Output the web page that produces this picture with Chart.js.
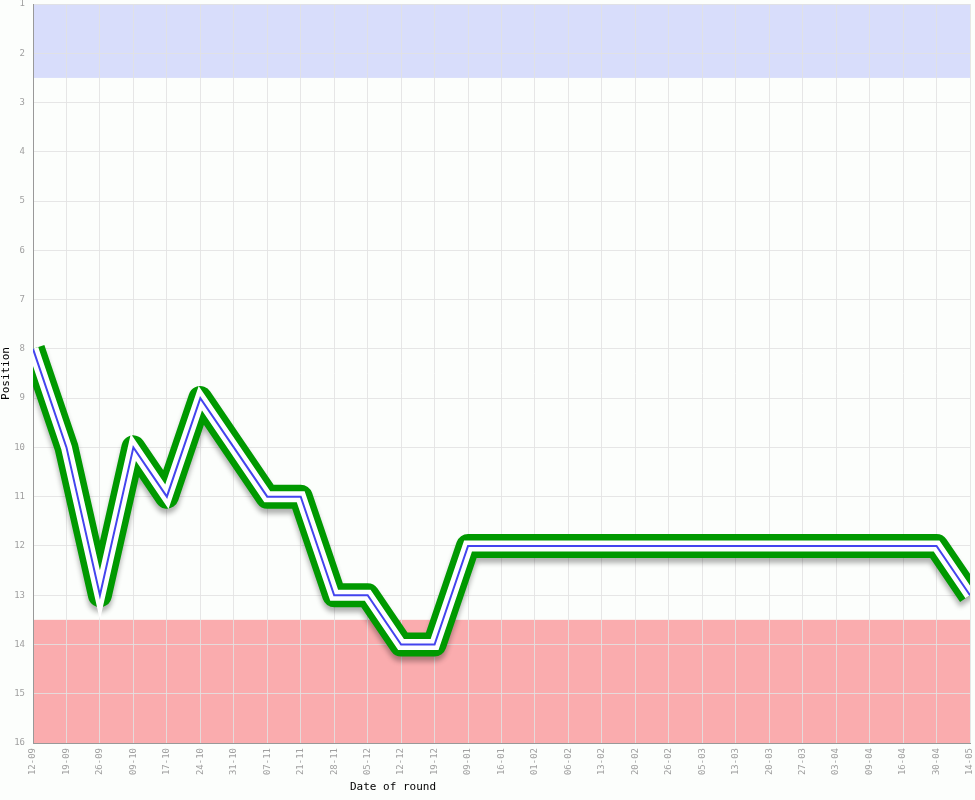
<!DOCTYPE html>
<html>
<head>
<meta charset="utf-8">
<script src="https://cdn.jsdelivr.net/npm/chart.js@4"></script>
<style>
  html, body { margin: 0; padding: 0; background: #fcfefc; }
  #wrap { width: 975px; height: 800px; }
</style>
</head>
<body>
<div id="wrap"><canvas id="c" width="975" height="800"></canvas></div>
<script>
const roundDates = ["12-09","19-09","26-09","09-10","17-10","24-10","31-10","07-11","21-11","28-11","05-12","12-12","19-12","09-01","16-01","01-02","06-02","13-02","20-02","26-02","05-03","13-03","20-03","27-03","03-04","09-04","16-04","30-04","14-05"];
const positions = [8,10,13,10,11,9,10,11,11,13,13,14,14,12,12,12,12,12,12,12,12,12,12,12,12,12,12,12,13];
const topZone = [1, 2.5];
const bottomZone = [13.5, 16];
const xTitle = "Date of round";
const yTitle = "Position";

const bgPlugin = {
  id: 'bg',
  beforeDraw(chart) {
    const ctx = chart.ctx, a = chart.chartArea, y = chart.scales.y;
    ctx.save();
    ctx.fillStyle = '#fcfefc';
    ctx.fillRect(0, 0, chart.width, chart.height);
    ctx.fillStyle = 'rgb(216,221,251)';
    let y1 = y.getPixelForValue(topZone[0]), y2 = y.getPixelForValue(topZone[1]);
    ctx.fillRect(a.left, Math.min(y1, y2), a.right - a.left, Math.abs(y2 - y1));
    ctx.fillStyle = 'rgb(250,172,174)';
    y1 = y.getPixelForValue(bottomZone[0]); y2 = y.getPixelForValue(bottomZone[1]);
    ctx.fillRect(a.left, Math.min(y1, y2), a.right - a.left, Math.abs(y2 - y1));
    ctx.restore();
  },
  afterDraw(chart) {
    const ctx = chart.ctx;
    ctx.save();
    ctx.fillStyle = '#000';
    ctx.font = '11px "DejaVu Sans Mono"';
    ctx.textAlign = 'center';
    ctx.textBaseline = 'middle';
    ctx.fillText(xTitle, 393, 787);
    ctx.restore();
  }
};

const shadowPlugin = {
  id: 'shadow',
  beforeDatasetDraw(chart, args) {
    if (args.index === 0) {
      const ctx = chart.ctx;
      ctx.save();
      ctx.shadowColor = 'rgba(0,0,0,0.3)';
      ctx.shadowBlur = 5;
      ctx.shadowOffsetX = 0;
      ctx.shadowOffsetY = 5;
    }
  },
  afterDatasetDraw(chart, args) {
    if (args.index === 0) chart.ctx.restore();
  }
};

function noPad(s) { s.paddingLeft = 0; s.paddingRight = 0; s.paddingTop = 0; s.paddingBottom = 0; }

new Chart(document.getElementById('c'), {
  type: 'line',
  data: {
    labels: roundDates,
    datasets: [
      { data: positions, borderColor: '#009900', borderWidth: 24, pointRadius: 0, tension: 0, borderJoinStyle: 'round', clip: 0, order: 3 },
      { data: positions, borderColor: '#ffffff', borderWidth: 11, pointRadius: 0, tension: 0, borderJoinStyle: 'miter', clip: 0, order: 2 },
      { data: positions, borderColor: '#4444ee', borderWidth: 2, pointRadius: 0, tension: 0, clip: 0, order: 1 }
    ]
  },
  options: {
    responsive: false,
    animation: false,
    devicePixelRatio: 1,
    layout: { padding: { top: 4, right: 5, left: 0, bottom: 0 } },
    plugins: { legend: { display: false }, tooltip: { enabled: false }, title: { display: false } },
    scales: {
      x: {
        offset: false,
        afterFit(s) { s.height = 57; noPad(s); },
        grid: { color: 'rgba(226,226,226,0.85)', drawTicks: false },
        border: { color: '#999999', width: 1 },
        ticks: { autoSkip: false, maxRotation: 90, minRotation: 90, padding: 5, color: '#a0a0a0', font: { family: 'DejaVu Sans Mono', size: 9 } }
      },
      y: {
        reverse: true,
        min: 1, max: 16,
        afterFit(s) { s.width = 33; noPad(s); },
        grid: { color: 'rgba(226,226,226,0.85)', drawTicks: false },
        border: { color: '#999999', width: 1 },
        ticks: { stepSize: 1, padding: 8, color: '#a0a0a0', font: { family: 'DejaVu Sans Mono', size: 9 } },
        title: { display: true, text: yTitle, color: '#000', font: { family: 'DejaVu Sans Mono', size: 11 }, padding: { top: 0, bottom: 0 } }
      }
    }
  },
  plugins: [bgPlugin, shadowPlugin]
});
</script>
</body>
</html>
